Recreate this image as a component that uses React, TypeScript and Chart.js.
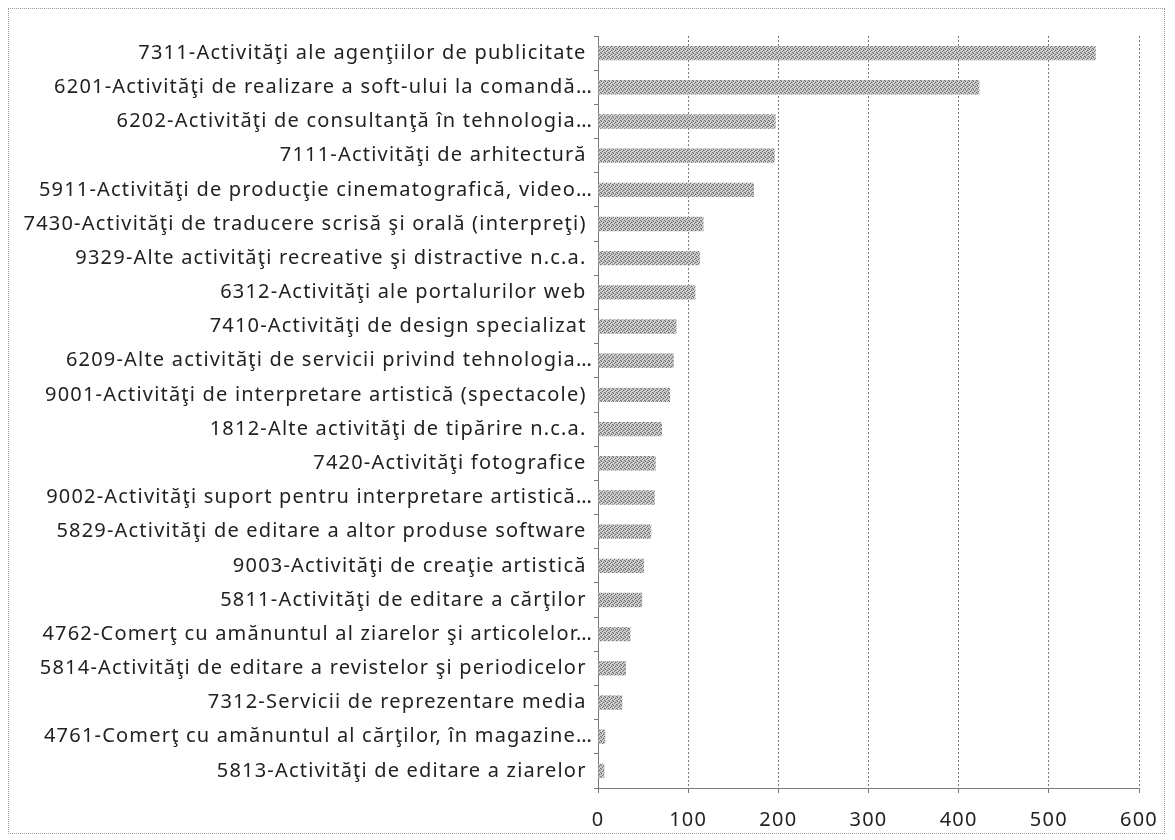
import React, { useEffect, useRef } from "react";
import { Chart, registerables } from "chart.js";

Chart.register(...registerables);

const categories: string[] = [
  "7311-Activităţi ale agenţiilor de publicitate ",
  "6201-Activităţi de realizare a soft-ului la comandă…",
  "6202-Activităţi de consultanţă în tehnologia…",
  "7111-Activităţi de arhitectură ",
  "5911-Activităţi de producţie cinematografică, video…",
  "7430-Activităţi de traducere scrisă şi orală (interpreţi) ",
  "9329-Alte activităţi recreative şi distractive n.c.a. ",
  "6312-Activităţi ale portalurilor web ",
  "7410-Activităţi de design specializat ",
  "6209-Alte activităţi de servicii privind tehnologia…",
  "9001-Activităţi de interpretare artistică (spectacole) ",
  "1812-Alte activităţi de tipărire n.c.a. ",
  "7420-Activităţi fotografice ",
  "9002-Activităţi suport pentru interpretare artistică…",
  "5829-Activităţi de editare a altor produse software ",
  "9003-Activităţi de creaţie artistică ",
  "5811-Activităţi de editare a cărţilor ",
  "4762-Comerţ cu amănuntul al ziarelor şi articolelor…",
  "5814-Activităţi de editare a revistelor şi periodicelor ",
  "7312-Servicii de reprezentare media ",
  "4761-Comerţ cu amănuntul al cărţilor, în magazine…",
  "5813-Activităţi de editare a ziarelor ",
];

const values: number[] = [
  552, 423, 197, 196, 173, 117, 113, 108, 87, 84, 80, 71, 64, 63, 59, 51, 49,
  36, 31, 27, 8, 7,
];

const xTickValues: number[] = [0, 100, 200, 300, 400, 500, 600];

const FONT = "'Noto Sans', sans-serif";

function makePattern(): CanvasPattern | string {
  const c = document.createElement("canvas");
  c.width = 4;
  c.height = 4;
  const ctx = c.getContext("2d");
  if (!ctx) return "#b0b0b0";
  ctx.fillStyle = "#d2d2d2";
  ctx.fillRect(0, 0, 4, 4);
  ctx.fillStyle = "#6e6e6e";
  const pts = [
    [0, 0],
    [2, 1],
    [1, 2],
    [3, 3],
  ];
  pts.forEach(([x, y]) => ctx.fillRect(x, y, 1, 1));
  ctx.fillStyle = "#a4a4a4";
  [
    [2, 0],
    [0, 3],
    [3, 1],
  ].forEach(([x, y]) => ctx.fillRect(x, y, 1, 1));
  const p = ctx.createPattern(c, "repeat");
  return p || "#b0b0b0";
}

const spacingPlugin = {
  id: "letterSpacingPlugin",
  beforeDraw(chart: any) {
    chart.ctx.letterSpacing = "1.2px";
  },
  afterDraw(chart: any) {
    chart.ctx.letterSpacing = "0px";
  },
};

export default function App() {
  const ref = useRef<HTMLCanvasElement | null>(null);

  useEffect(() => {
    if (!ref.current) return;
    const pattern = makePattern();
    const chart = new Chart(ref.current, {
      type: "bar",
      data: {
        labels: categories,
        datasets: [
          {
            data: values,
            backgroundColor: pattern as any,
            borderWidth: 0,
            barPercentage: 0.42,
            categoryPercentage: 1,
          },
        ],
      },
      plugins: [spacingPlugin],
      options: {
        indexAxis: "y",
        animation: false,
        responsive: true,
        maintainAspectRatio: false,
        layout: { padding: { top: 27, right: 25, left: 0, bottom: 0 } },
        plugins: {
          legend: { display: false },
          tooltip: { enabled: false },
        },
        scales: {
          x: {
            min: 0,
            max: 600,
            afterBuildTicks: (scale: any) => {
              scale.ticks = xTickValues.map((v) => ({ value: v }));
            },
            afterFit: (scale: any) => {
              scale.height = 45;
              scale.paddingRight = 0;
              scale.paddingLeft = 0;
            },
            ticks: {
              color: "#222",
              font: { family: FONT, size: 20 },
              padding: 15,
            },
            grid: {
              color: "#7a7a7a",
              lineWidth: 1,
              tickLength: 5,
              tickColor: "#7a7a7a",
            },
            border: { display: true, color: "#7a7a7a", dash: [2, 2] },
          },
          y: {
            afterFit: (scale: any) => {
              scale.width = 589;
            },
            ticks: {
              color: "#222",
              font: { family: FONT, size: 20 },
              padding: 1,
              autoSkip: false,
            },
            grid: {
              drawOnChartArea: false,
              offset: true,
              tickLength: 4,
              tickColor: "#7a7a7a",
            },
            border: { display: true, color: "#7a7a7a", dash: [2, 2] },
          },
        },
      },
    });
    (chart.options.scales as any).x.grid.borderDash = [2, 2];
    chart.update();
    return () => chart.destroy();
  }, []);

  return (
    <div
      style={{
        position: "relative",
        width: 1157,
        height: 826,
        border: "1px dotted #999",
        boxSizing: "border-box",
        background: "#fff",
      }}
    >
      <canvas ref={ref} />
    </div>
  );
}
